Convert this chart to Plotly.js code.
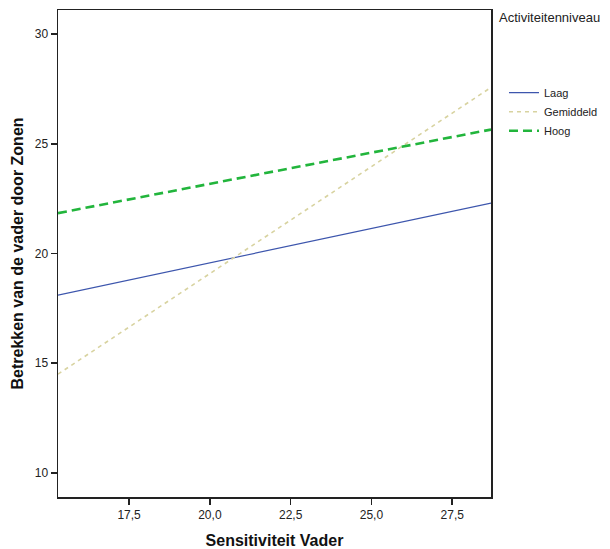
<!DOCTYPE html>
<html>
<head>
<meta charset="utf-8">
<script src="https://cdn.plot.ly/plotly-3.0.1.min.js"></script>
<style>html,body{margin:0;padding:0;background:#fff;}#chart{width:610px;height:549px;}</style>
</head>
<body>
<div id="chart"></div>
<script>
const groups = ["Laag", "Gemiddeld", "Hoog"];
const xEnds = [15.3, 28.7];
const laagY = [18.10, 22.30];
const gemiddeldY = [14.50, 27.57];
const hoogY = [21.84, 25.65];
const xTicks = [17.5, 20.0, 22.5, 25.0, 27.5];
const yTicks = [10, 15, 20, 25, 30];

const styles = [
  {color: "#3d56ad", width: 1.2, dash: "solid"},
  {color: "#d8d3a0", width: 1.6, dash: "4px,4px"},
  {color: "#22b53c", width: 2.6, dash: "9px,5px"}
];
const series = [laagY, gemiddeldY, hoogY];
const traces = groups.map((g, i) => ({
  x: xEnds, y: series[i], name: g, type: "scatter", mode: "lines",
  line: styles[i], hoverinfo: "skip"
}));

const layout = {
  width: 610, height: 549,
  margin: {l: 58, r: 119, t: 10, b: 52, autoexpand: false},
  paper_bgcolor: "#fff", plot_bgcolor: "#fff",
  separators: ",.",
  font: {family: "Liberation Sans, Arial, sans-serif", size: 12, color: "#222"},
  xaxis: {
    range: [15.3, 28.7], tickvals: xTicks, tickformat: ".1f",
    ticks: "outside", ticklen: 6, tickwidth: 1.5, tickcolor: "#222",
    showline: true, linecolor: "#222", linewidth: 1.5, mirror: true,
    showgrid: false, zeroline: false,
    title: {text: "Sensitiviteit Vader", font: {size: 16, color: "#111", weight: "bold"}, standoff: 14}
  },
  yaxis: {
    range: [8.9, 31.1], tickvals: yTicks,
    ticks: "outside", ticklen: 6, tickwidth: 1.5, tickcolor: "#222",
    showline: true, linecolor: "#222", linewidth: 1.5, mirror: true,
    showgrid: false, zeroline: false,
    title: {text: "Betrekken van de vader door Zonen", font: {size: 16, color: "#111", weight: "bold"}, standoff: 7}
  },
  showlegend: true,
  legend: {
    x: 1.03, xanchor: "left", y: 0.86, yanchor: "top",
    font: {size: 11, color: "#222"}, bgcolor: "rgba(0,0,0,0)",
    itemwidth: 30, tracegroupgap: 0
  },
  annotations: [{
    text: "Activiteitenniveau", xref: "paper", yref: "paper",
    x: 1.013, y: 0.985, xanchor: "left", yanchor: "middle",
    showarrow: false, font: {size: 13, color: "#222"}
  }]
};

Plotly.newPlot("chart", traces, layout, {displayModeBar: false, staticPlot: true});
</script>
</body>
</html>
